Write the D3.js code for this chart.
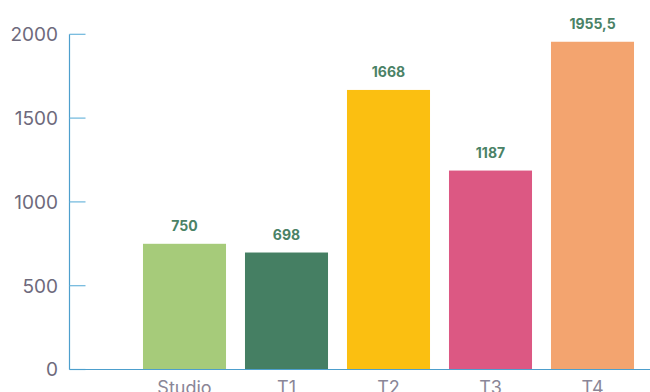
<!DOCTYPE html>
<html lang="en">
<head>
  <meta charset="UTF-8">
  <title>Bar chart</title>
  <style>
    body { margin: 0; background: #fff; }
    svg { display: block; font-family: Inter, "DejaVu Sans", sans-serif; }
    .ytick text { fill: #6e6a7c; font-size: 19px; }
    .xtick text { fill: #8a8697; font-size: 18px; }
    .value { fill: #4a8266; font-size: 14px; font-weight: 700; }
  </style>
</head>
<body>
  <svg width="650" height="392"></svg>

  <script src="https://d3js.org/d3.v7.min.js"></script>
  <script>
    const categories = ["Studio", "T1", "T2", "T3", "T4"];
    const values = [750, 698, 1668, 1187, 1955.5];
    const valueLabels = ["750", "698", "1668", "1187", "1955,5"];
    const barColors = ["#a6cb7a", "#457f63", "#fbbf11", "#dc5883", "#f3a46f"];
    const yTicks = [0, 500, 1000, 1500, 2000];

    const svg = d3.select("svg");
    const axisX = 69.5, plotBottom = 369.5, plotTop = 34.3;

    const y = d3.scaleLinear().domain([0, 2000]).range([plotBottom, plotTop]);
    const x = d3.scaleBand()
      .domain(categories)
      .range([133.5, 643.5])
      .paddingInner(0.186)
      .paddingOuter(0.093);

    // bars
    svg.append("g")
      .selectAll("rect")
      .data(values)
      .join("rect")
      .attr("x", (d, i) => x(categories[i]))
      .attr("y", d => y(d))
      .attr("width", x.bandwidth())
      .attr("height", d => plotBottom - y(d))
      .attr("fill", (d, i) => barColors[i]);

    // value labels
    svg.append("g")
      .selectAll("text")
      .data(values)
      .join("text")
      .attr("class", "value")
      .attr("x", (d, i) => x(categories[i]) + x.bandwidth() / 2)
      .attr("y", d => y(d) - 13)
      .attr("text-anchor", "middle")
      .text((d, i) => valueLabels[i]);

    // y axis
    const yAxis = svg.append("g");
    yAxis.append("line")
      .attr("x1", axisX).attr("x2", axisX)
      .attr("y1", y(2000)).attr("y2", plotBottom)
      .attr("stroke", "#4d9fcd").attr("stroke-width", 1.2);
    const yt = yAxis.selectAll("g.ytick")
      .data(yTicks)
      .join("g")
      .attr("class", "ytick")
      .attr("transform", d => `translate(0,${y(d)})`);
    yt.append("line")
      .attr("x1", axisX).attr("x2", axisX + 16)
      .attr("stroke", "#6cb6dc").attr("stroke-width", 1.2);
    yt.append("text")
      .attr("x", 58)
      .attr("dy", "0.36em")
      .attr("text-anchor", "end")
      .text(d => d);

    // x axis
    svg.append("line")
      .attr("x1", axisX).attr("x2", 650)
      .attr("y1", plotBottom).attr("y2", plotBottom)
      .attr("stroke", "#4d9fcd").attr("stroke-width", 1.2);
    svg.append("g")
      .selectAll("g.xtick")
      .data(categories)
      .join("g")
      .attr("class", "xtick")
      .append("text")
      .attr("x", d => x(d) + x.bandwidth() / 2)
      .attr("y", 394)
      .attr("text-anchor", "middle")
      .text(d => d);
  </script>
</body>
</html>
